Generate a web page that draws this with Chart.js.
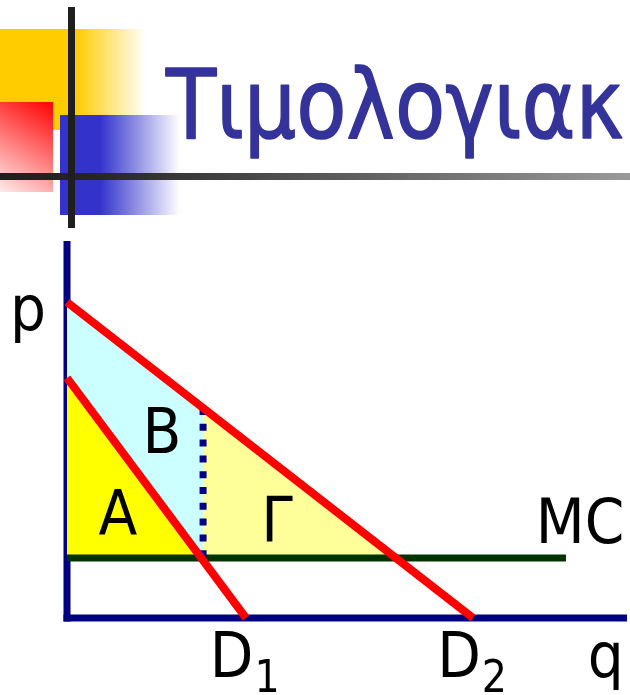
<!DOCTYPE html>
<html><head><meta charset="utf-8">
<script src="https://cdn.jsdelivr.net/npm/chart.js@4/dist/chart.umd.min.js"></script>
<style>html,body{margin:0;padding:0;background:#fff;overflow:hidden}canvas{display:block}</style>
</head><body>
<canvas id="c" width="630" height="695"></canvas>
<script>
// ---- data ----
const titleText = "Τιμολογιακ";
const d1Line = [{x:0,y:63.7},{x:31.96,y:0}];
const d2Line = [{x:0,y:83.8},{x:72.5,y:0}];
const mcLevel = 15.9;
const mcLine = [{x:0,y:15.9},{x:89.1,y:15.9}];
const areaA = [{x:0,y:63.7},{x:23.98,y:15.9}];
const areaB = [{x:0,y:83.8},{x:24.3,y:55.7}];
const areaG = [{x:24.3,y:55.7},{x:58.75,y:15.9}];
const splitLine = [{x:24.3,y:55.7},{x:24.3,y:15.9}];
const yAxisLine = [{x:0,y:-0.93},{x:0,y:100}];
const xAxisLine = [{x:-0.63,y:0},{x:100,y:0}];
const labelTexts = ["p","A","B","Γ","MC","D","D","q"];
const labelSubs  = ["","","","","","1","2",""];

// ---- layout of annotations (data coordinates) ----
const labelPos = [
  {x:-6.96,y:76.4,align:'center'},
  {x:9.11,y:22.0,align:'center'},
  {x:16.96,y:43.8,align:'center'},
  {x:37.5,y:20.4,align:'center'},
  {x:91.6,y:19.9,align:'center'},
  {x:25.5,y:-15.6,align:'left'},
  {x:66.1,y:-15.6,align:'left'},
  {x:93.0,y:-15.6,align:'left'}
];

const NAVY = '#000080', RED = '#FF0000', GREEN = '#003300';

const decorPlugin = {
  id:'decor',
  beforeDraw(chart){
    const ctx = chart.ctx;
    ctx.save();
    ctx.fillStyle = '#fff'; ctx.fillRect(0,0,chart.width,chart.height);
    // yellow block
    let g = ctx.createLinearGradient(0,0,146,0);
    g.addColorStop(0,'rgba(255,204,0,1)');
    g.addColorStop(76/146,'rgba(255,204,0,1)');
    g.addColorStop(1,'rgba(255,204,0,0)');
    ctx.fillStyle = g; ctx.fillRect(0,29,146,101);
    // red block
    g = ctx.createLinearGradient(53,102,0,192);
    g.addColorStop(0,'rgba(255,0,0,1)');
    g.addColorStop(1,'rgba(255,0,0,0.08)');
    ctx.fillStyle = '#fff'; ctx.fillRect(0,102,53,90);
    ctx.fillStyle = g; ctx.fillRect(0,102,53,90);
    // blue block
    g = ctx.createLinearGradient(60,0,180,0);
    g.addColorStop(0,'rgba(51,51,204,1)');
    g.addColorStop(40/120,'rgba(51,51,204,1)');
    g.addColorStop(1,'rgba(51,51,204,0)');
    ctx.fillStyle = '#fff'; ctx.fillRect(60,115,120,100);
    ctx.fillStyle = g; ctx.fillRect(60,115,120,100);
    // horizontal rule
    g = ctx.createLinearGradient(0,0,630,0);
    g.addColorStop(0,'#1f1f1f');
    g.addColorStop(0.15,'#262626');
    g.addColorStop(1,'#9a9a9a');
    ctx.fillStyle = g; ctx.fillRect(0,173,630,7);
    // vertical rule
    ctx.fillStyle = '#1f1f1f'; ctx.fillRect(68,7,7,221);
    // title
    ctx.font = '97px "DejaVu Sans"';
    ctx.textBaseline = 'alphabetic';
    ctx.textAlign = 'left';
    const w = ctx.measureText(titleText).width;
    const sx = 458 / w;
    ctx.translate(166,138);
    ctx.scale(sx,1);
    ctx.fillStyle = '#333399';
    ctx.strokeStyle = '#333399';
    ctx.lineWidth = 1.6;
    ctx.lineJoin = 'round';
    ctx.fillText(titleText,0,0);
    ctx.strokeText(titleText,0,0);
    ctx.restore();
  }
};

const labelPlugin = {
  id:'labels',
  afterDatasetsDraw(chart){
    const ctx = chart.ctx, xs = chart.scales.x, ys = chart.scales.y;
    ctx.save();
    ctx.fillStyle = '#000';
    ctx.textBaseline = 'alphabetic';
    const SX = 0.9;
    labelTexts.forEach((t,i)=>{
      const p = labelPos[i];
      const px = xs.getPixelForValue(p.x), py = ys.getPixelForValue(p.y);
      ctx.save();
      ctx.font = '63px "DejaVu Sans"';
      const w = ctx.measureText(t).width * SX;
      let left = p.align === 'center' ? px - w/2 : px;
      ctx.translate(left,py); ctx.scale(SX,1);
      ctx.textAlign = 'left';
      ctx.fillText(t,0,0);
      ctx.restore();
      if (labelSubs[i]) {
        ctx.save();
        ctx.font = '44px "DejaVu Sans"';
        ctx.translate(left + w + 1, py + 15); ctx.scale(SX,1);
        ctx.fillText(labelSubs[i],0,0);
        ctx.restore();
      }
    });
    ctx.restore();
  }
};

const lineDs = (data,color,width,order,extra) => Object.assign({
  data, showLine:true, borderColor:color, borderWidth:width, pointRadius:0,
  fill:false, tension:0, clip:false, order, borderCapStyle:'butt'
}, extra||{});

new Chart(document.getElementById('c'),{
  type:'scatter',
  data:{datasets:[
    lineDs(d1Line,RED,8,1),
    lineDs(d2Line,RED,8,2),
    lineDs(splitLine,NAVY,7,3,{borderDash:[7,8.8]}),
    lineDs(mcLine,GREEN,7,4),
    lineDs(areaA,'rgba(0,0,0,0)',0,5,{fill:{value:mcLevel},backgroundColor:'#FFFF00'}),
    lineDs(areaG,'rgba(0,0,0,0)',0,6,{fill:{value:mcLevel},backgroundColor:'#FFFF99'}),
    lineDs(areaB,'rgba(0,0,0,0)',0,7,{fill:{value:mcLevel},backgroundColor:'#CCFFFF'}),
    lineDs(yAxisLine,NAVY,7,8),
    lineDs(xAxisLine,NAVY,7,9)
  ]},
  options:{
    responsive:false, animation:false, devicePixelRatio:1,
    layout:{padding:{left:67,right:3,top:241,bottom:77}},
    scales:{
      x:{type:'linear',min:0,max:100,display:false},
      y:{type:'linear',min:0,max:100,display:false}
    },
    plugins:{legend:{display:false},tooltip:{enabled:false}}
  },
  plugins:[decorPlugin,labelPlugin]
});
</script>
</body></html>
